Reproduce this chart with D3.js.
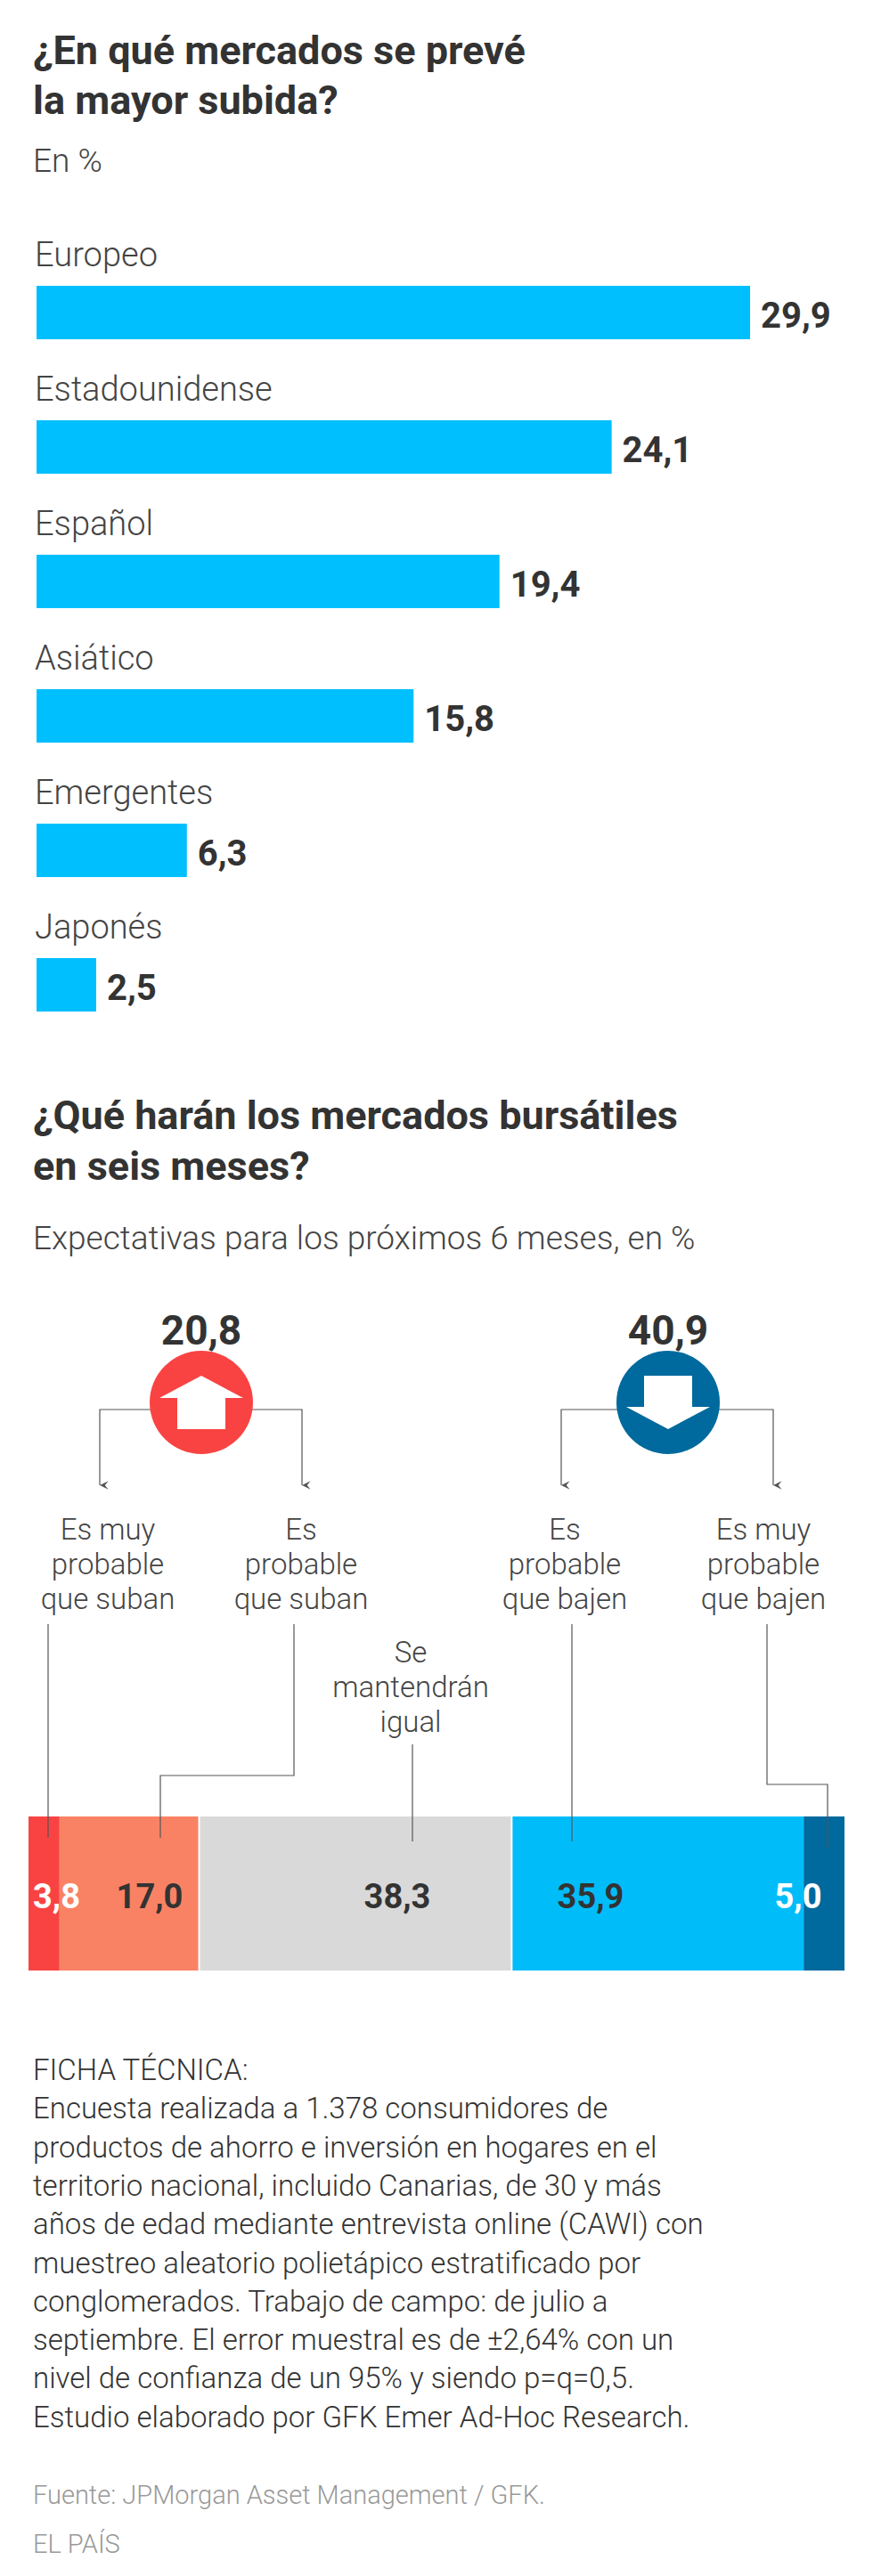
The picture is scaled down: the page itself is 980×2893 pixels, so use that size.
<!DOCTYPE html>
<html lang="es">
<head>
<meta charset="utf-8">
<script src="https://cdn.jsdelivr.net/npm/d3@7"></script>
<style>body{margin:0;background:#fff}</style>
</head>
<body>
<script>
var w = 980, h = 2893;

var markets = ["Europeo", "Estadounidense", "Español", "Asiático", "Emergentes", "Japonés"];
var marketValues = [29.9, 24.1, 19.4, 15.8, 6.3, 2.5];

var outlook = ["Es muy probable que suban", "Es probable que suban", "Se mantendrán igual", "Es probable que bajen", "Es muy probable que bajen"];
var outlookValues = [3.8, 17.0, 38.3, 35.9, 5.0];
var outlookColors = ["#f94343", "#fa8264", "#d9d9d9", "#00bdfa", "#00699d"];
var upTotal = 20.8, downTotal = 40.9;

var fmt = function(v) { return d3.format(".1f")(v).replace(".", ","); };
var font = "Roboto, sans-serif";

var svg = d3.select("body").append("svg").attr("width", w).attr("height", h);

function txt(x, y, s, size, weight, fill, anchor) {
	return svg.append("text").attr("x", x).attr("y", y).text(s)
		.attr("font-family", font).attr("font-size", size)
		.attr("font-weight", weight || 400).attr("fill", fill || "#444")
		.attr("text-anchor", anchor || "start");
}

// titulo 1
txt(37, 72, "¿En qué mercados se prevé", 45, 700, "#333");
txt(37, 128, "la mayor subida?", 45, 700, "#333");
txt(37, 193, "En %", 37, 300, "#444");

// barras horizontales
var xScale = d3.scaleLinear().domain([0, 29.9]).range([41, 842]);
var yScale = d3.scaleBand().domain(markets).range([275, 275 + 151 * 6]);

var rows = svg.selectAll("g.row").data(markets).enter().append("g")
	.attr("transform", function(d) { return "translate(0," + yScale(d) + ")"; });
rows.append("text").text(function(d) { return d; })
	.attr("x", 39).attr("y", 24).attr("font-family", font).attr("font-size", 38)
	.attr("font-weight", 300).attr("fill", "#444");
rows.append("rect").attr("x", xScale(0)).attr("y", 46)
	.attr("width", function(d, i) { return xScale(marketValues[i]) - xScale(0); })
	.attr("height", 60).attr("fill", "#00bfff");
rows.append("text").text(function(d, i) { return fmt(marketValues[i]); })
	.attr("x", function(d, i) { return xScale(marketValues[i]) + 12; }).attr("y", 93)
	.attr("font-family", font).attr("font-size", 40).attr("font-weight", 700).attr("fill", "#333");

// titulo 2
txt(37, 1268, "¿Qué harán los mercados bursátiles", 45, 700, "#333");
txt(37, 1325, "en seis meses?", 45, 700, "#333");
txt(37, 1403, "Expectativas para los próximos 6 meses, en %", 37, 300, "#444");

// barra apilada
var sScale = d3.scaleLinear().domain([0, d3.sum(outlookValues)]).range([32, 948]);
var cum = d3.cumsum(outlookValues);
var starts = outlookValues.map(function(v, i) { return cum[i] - v; });
var barY = 2040, barH = 173;

svg.selectAll("rect.seg").data(outlookValues).enter().append("rect")
	.attr("x", function(d, i) { return sScale(starts[i]) + (i == 2 || i == 3 ? 2 : 0); })
	.attr("y", barY)
	.attr("width", function(d, i) { return sScale(cum[i]) - sScale(starts[i]) - (i == 2 ? 2 : 0) - (i == 3 ? 2 : 0); })
	.attr("height", barH)
	.attr("fill", function(d, i) { return outlookColors[i]; });

var valX = [37, 168, 446, 663, 896];
var valAnchor = ["start", "middle", "middle", "middle", "middle"];
var valFill = ["#fff", "#333", "#333", "#333", "#fff"];
svg.selectAll("text.val").data(outlookValues).enter().append("text")
	.text(function(d) { return fmt(d); })
	.attr("x", function(d, i) { return valX[i]; }).attr("y", 2143)
	.attr("text-anchor", function(d, i) { return valAnchor[i]; })
	.attr("font-family", font).attr("font-size", 38)
	.attr("font-weight", 700).attr("fill", function(d, i) { return valFill[i]; });

// etiquetas
var labLines = [["Es muy", "probable", "que suban"], ["Es", "probable", "que suban"],
	["Se", "mantendrán", "igual"], ["Es", "probable", "que bajen"], ["Es muy", "probable", "que bajen"]];
var labX = [121, 338, 461, 634, 857];
var labY = [1729, 1729, 1867, 1729, 1729];
labLines.forEach(function(lines, i) {
	lines.forEach(function(s, j) {
		txt(labX[i], labY[i] + j * 39, s, 33, 300, "#444", "middle");
	});
});

// lineas guia
var line = d3.line();
var leaders = [
	[[54, 1824], [54, 2064]],
	[[330, 1824], [330, 1994], [180, 1994], [180, 2064]],
	[[463, 1959], [463, 2068]],
	[[642, 1824], [642, 2068]],
	[[861, 1824], [861, 2004], [929, 2004], [929, 2076]]
];
svg.selectAll("path.lead").data(leaders).enter().append("path")
	.attr("d", line).attr("fill", "none").attr("stroke", "#555").attr("stroke-width", 1.2);

// circulos y flechas
svg.append("defs").append("marker").attr("id", "ah").attr("viewBox", "0 0 10 10")
	.attr("refX", 5).attr("refY", 10).attr("markerWidth", 8).attr("markerHeight", 8)
	.attr("orient", "auto-start-reverse")
	.append("path").attr("d", "M0,0L5,10L10,0L5,4Z").attr("fill", "#555");

function group(cx, total, color, up, lx, rx) {
	var cy = 1575;
	[lx, rx].forEach(function(x) {
		svg.append("path").attr("d", line([[cx, 1583], [x, 1583], [x, 1668]]))
			.attr("fill", "none").attr("stroke", "#555").attr("stroke-width", 1.2)
			.attr("marker-end", "url(#ah)");
	});
	svg.append("circle").attr("cx", cx).attr("cy", cy).attr("r", 58).attr("fill", color);
	var pts = up
		? [[0, -30], [47, -5], [27, -5], [27, 30], [-27, 30], [-27, -5], [-47, -5]]
		: [[0, 30], [47, 5], [27, 5], [27, -30], [-27, -30], [-27, 5], [-47, 5]];
	svg.append("polygon").attr("points", pts.map(function(p) { return (cx + p[0]) + "," + (cy + p[1]); }).join(" "))
		.attr("fill", "#fff");
	txt(cx, 1510, fmt(total), 46, 700, "#333", "middle");
}
group(226, upTotal, "#f94343", true, 112, 339);
group(750, downTotal, "#00699d", false, 630, 868);

// ficha
var ficha = ["FICHA TÉCNICA:",
	"Encuesta realizada a 1.378 consumidores de",
	"productos de ahorro e inversión en hogares en el",
	"territorio nacional, incluido Canarias, de 30 y más",
	"años de edad mediante entrevista online (CAWI) con",
	"muestreo aleatorio polietápico estratificado por",
	"conglomerados. Trabajo de campo: de julio a",
	"septiembre. El error muestral es de ±2,64% con un",
	"nivel de confianza de un 95% y siendo p=q=0,5.",
	"Estudio elaborado por GFK Emer Ad-Hoc Research."];
ficha.forEach(function(s, i) { txt(37, 2336 + i * 43.3, s, 33, 300, "#333"); });

txt(37, 2812, "Fuente: JPMorgan Asset Management / GFK.", 29, 300, "#999");
txt(37, 2867, "EL PAÍS", 29, 300, "#999");
</script>
</body>
</html>
